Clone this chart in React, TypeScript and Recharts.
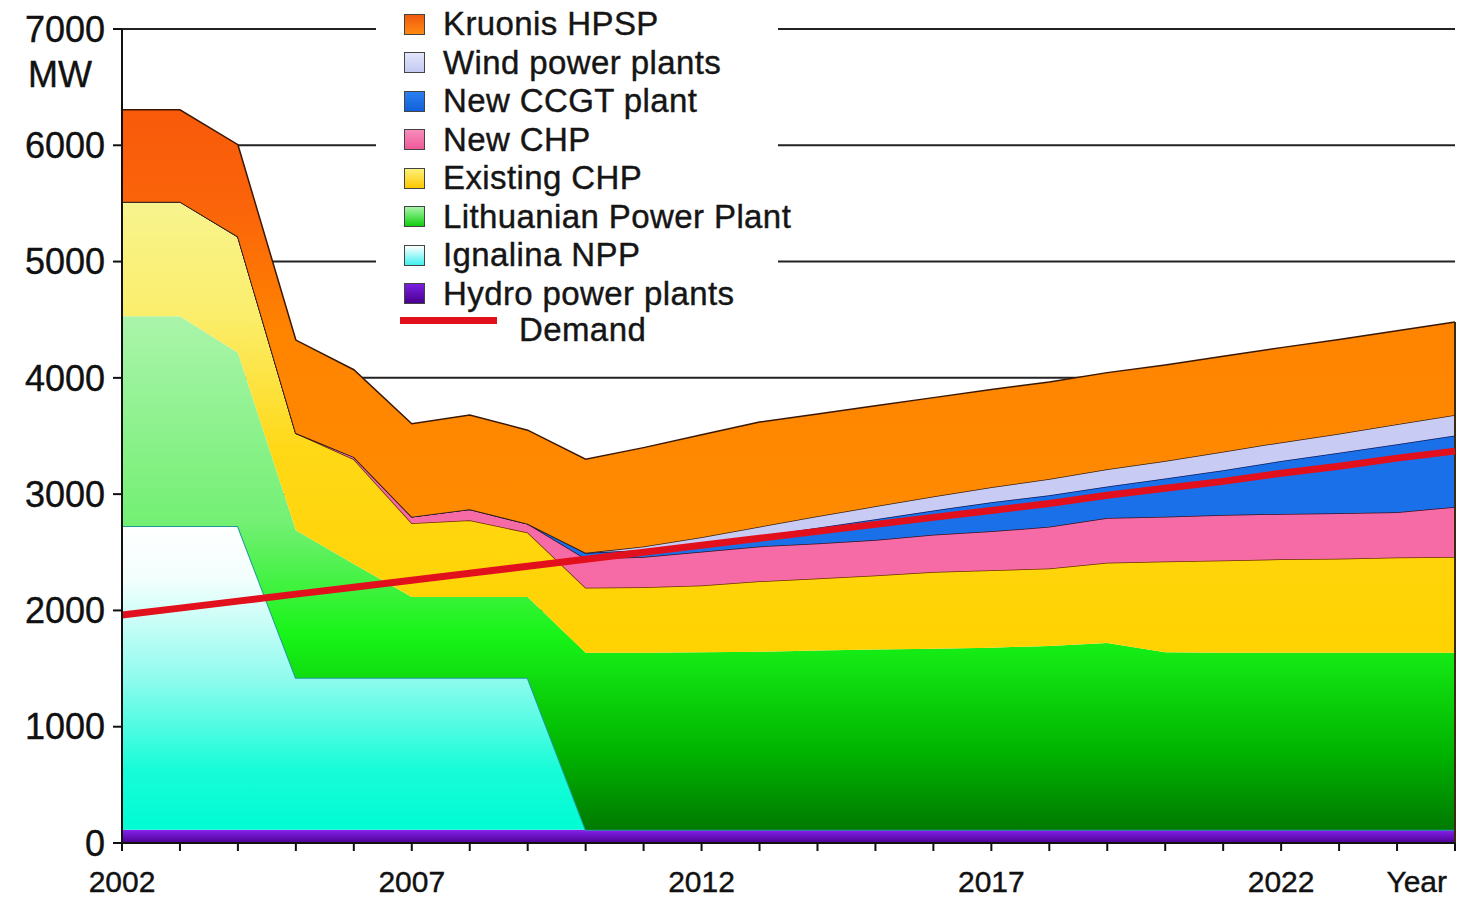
import { ComposedChart, Area, Line, XAxis, YAxis, CartesianGrid, ReferenceLine } from 'recharts';

// installed capacity by source, MW
const years = [2002, 2003, 2004, 2005, 2006, 2007, 2008, 2009, 2010, 2011, 2012, 2013, 2014, 2015, 2016, 2017, 2018, 2019, 2020, 2021, 2022, 2023, 2024, 2025];
const hydro = [115, 115, 115, 115, 115, 115, 115, 115, 115, 115, 115, 115, 115, 115, 115, 115, 115, 115, 115, 115, 115, 115, 115, 115];
const ignalina = [2610, 2610, 2610, 1305, 1305, 1305, 1305, 1305, 0, 0, 0, 0, 0, 0, 0, 0, 0, 0, 0, 0, 0, 0, 0, 0];
const lithuanianPP = [1805, 1805, 1490, 1270, 980, 695, 695, 695, 1520, 1520, 1525, 1530, 1540, 1550, 1555, 1565, 1580, 1605, 1525, 1520, 1520, 1520, 1520, 1520];
const existingChp = [985, 985, 1000, 835, 900, 635, 660, 555, 560, 565, 575, 605, 620, 635, 660, 665, 665, 690, 780, 795, 805, 810, 820, 825];
const newChp = [0, 0, 0, 0, 20, 55, 95, 75, 250, 260, 290, 300, 300, 305, 320, 335, 360, 385, 385, 390, 390, 390, 390, 430];
const newCcgt = [0, 0, 0, 0, 0, 0, 0, 0, 50, 60, 65, 90, 135, 180, 210, 250, 270, 270, 330, 385, 455, 520, 585, 615];
const wind = [0, 0, 0, 0, 0, 0, 0, 0, 0, 30, 60, 80, 100, 110, 120, 130, 140, 150, 150, 160, 160, 165, 170, 175];
const kruonis = [790, 790, 790, 800, 750, 800, 810, 805, 805, 850, 880, 900, 880, 865, 850, 840, 835, 830, 825, 820, 815, 810, 805, 800];
const demand = [1960, 2020, 2080, 2140, 2200, 2260, 2320, 2380, 2440, 2500, 2560, 2620, 2680, 2740, 2800, 2860, 2920, 2990, 3050, 3110, 3180, 3240, 3310, 3370];

const yTicks = [0, 1000, 2000, 3000, 4000, 5000, 6000, 7000];
const labelYears = [2002, 2007, 2012, 2017, 2022];

const data = years.map((year, i) => ({
  year,
  hydro: hydro[i],
  ignalina: ignalina[i],
  lpp: lithuanianPP[i],
  existingChp: existingChp[i],
  newChp: newChp[i],
  ccgt: newCcgt[i],
  wind: wind[i],
  kruonis: kruonis[i],
  demand: demand[i],
}));

const lastTotal = hydro[23] + ignalina[23] + lithuanianPP[23] + existingChp[23] + newChp[23] + newCcgt[23] + wind[23] + kruonis[23];

const FONT = "'Liberation Sans', Arial, sans-serif";

const legendItems = [
  { name: 'Kruonis HPSP', bg: 'linear-gradient(#f05a10, #ff8a10)' },
  { name: 'Wind power plants', bg: 'linear-gradient(#e4e6fb, #c4c9f2)' },
  { name: 'New CCGT plant', bg: 'linear-gradient(#2a80f0, #1260d8)' },
  { name: 'New CHP', bg: 'linear-gradient(#f88cbc, #ee5a98)' },
  { name: 'Existing CHP', bg: 'linear-gradient(#fbf07a, #ffc800)' },
  { name: 'Lithuanian Power Plant', bg: 'linear-gradient(#a8f5a8, #10d010)' },
  { name: 'Ignalina NPP', bg: 'linear-gradient(#ffffff, #40f0f0)' },
  { name: 'Hydro power plants', bg: 'linear-gradient(#7a20e0, #4a0090)' },
];

const XTick = (props: any) => {
  const { x, y, payload } = props;
  const yr = payload.value;
  if (yr === 2025) {
    return (
      <text x={x - 8} y={y} dy="0.71em" textAnchor="end" fontSize={30} fontFamily={FONT} fill="#111" stroke="#111" strokeWidth={0.4}>Year</text>
    );
  }
  if (!labelYears.includes(yr)) return <g />;
  return (
    <text x={x} y={y} dy="0.71em" textAnchor="middle" fontSize={30} fontFamily={FONT} fill="#111" stroke="#111" strokeWidth={0.4}>{yr}</text>
  );
};

const YTick = (props: any) => {
  const { x, y, payload } = props;
  return (
    <g>
      <text x={x} y={y} dy="0.355em" textAnchor="end" fontSize={36} fontFamily={FONT} fill="#111" stroke="#111" strokeWidth={0.4}>{payload.value}</text>
      {payload.value === 7000 && (
        <text x={x - 45} y={y + 45} dy="0.355em" textAnchor="middle" fontSize={36} fontFamily={FONT} fill="#111" stroke="#111" strokeWidth={0.4}>MW</text>
      )}
    </g>
  );
};

export default function App() {
  return (
    <div style={{ position: 'absolute', left: 0, top: 0, width: 1461, height: 901, background: '#fff' }}>
      <ComposedChart width={1461} height={901} data={data} margin={{ top: 29, right: 6, bottom: 0, left: 0 }}>
        <defs>
          <linearGradient id="gHydro" x1="0" y1="0" x2="0" y2="1">
            <stop offset="0" stopColor="#8a24f0" />
            <stop offset="1" stopColor="#4a0090" />
          </linearGradient>
          <linearGradient id="gIgn" x1="0" y1="0" x2="0" y2="1">
            <stop offset="0" stopColor="#ffffff" />
            <stop offset="0.18" stopColor="#f2fffd" />
            <stop offset="0.5" stopColor="#90fbee" />
            <stop offset="0.8" stopColor="#18fcd8" />
            <stop offset="1" stopColor="#00fcd4" />
          </linearGradient>
          <linearGradient id="gLpp" x1="0" y1="0" x2="0" y2="1">
            <stop offset="0" stopColor="#aaf4aa" />
            <stop offset="0.4" stopColor="#74f074" />
            <stop offset="0.62" stopColor="#18f418" />
            <stop offset="0.85" stopColor="#00b400" />
            <stop offset="1" stopColor="#007a00" />
          </linearGradient>
          <linearGradient id="gEx" x1="0" y1="0" x2="0" y2="1">
            <stop offset="0" stopColor="#f8f48e" />
            <stop offset="0.25" stopColor="#fbee6c" />
            <stop offset="0.55" stopColor="#ffd816" />
            <stop offset="1" stopColor="#ffd200" />
          </linearGradient>
          <linearGradient id="gKru" x1="0" y1="0" x2="0" y2="1">
            <stop offset="0" stopColor="#f85a0a" />
            <stop offset="0.22" stopColor="#fb640a" />
            <stop offset="0.5" stopColor="#ff8400" />
            <stop offset="1" stopColor="#ff8c00" />
          </linearGradient>
        </defs>
        <CartesianGrid vertical={false} stroke="#222" strokeWidth={2} />
        <XAxis
          dataKey="year"
          type="number"
          domain={[2002, 2025]}
          ticks={years}
          interval={0}
          height={58}
          tickSize={8}
          tickMargin={20}
          tick={<XTick />}
          axisLine={{ stroke: '#111', strokeWidth: 2 }}
          tickLine={{ stroke: '#111', strokeWidth: 2 }}
        />
        <YAxis
          type="number"
          domain={[0, 7000]}
          ticks={yTicks}
          interval={0}
          width={122}
          tickSize={9}
          tickMargin={8}
          tick={<YTick />}
          axisLine={{ stroke: '#111', strokeWidth: 2 }}
          tickLine={{ stroke: '#111', strokeWidth: 2 }}
        />
        <Area type="linear" dataKey="hydro" stackId="cap" fill="url(#gHydro)" fillOpacity={1} stroke="none" isAnimationActive={false} />
        <Area type="linear" dataKey="ignalina" stackId="cap" fill="url(#gIgn)" fillOpacity={1} stroke="#1c9c9c" strokeWidth={2} isAnimationActive={false} />
        <Area type="linear" dataKey="lpp" stackId="cap" fill="url(#gLpp)" fillOpacity={1} stroke="none" isAnimationActive={false} />
        <Area type="linear" dataKey="existingChp" stackId="cap" fill="url(#gEx)" fillOpacity={1} stroke="#6b3000" strokeWidth={1.5} isAnimationActive={false} />
        <Area type="linear" dataKey="newChp" stackId="cap" fill="#f66aa6" fillOpacity={1} stroke="#3a1020" strokeWidth={1.5} isAnimationActive={false} />
        <Area type="linear" dataKey="ccgt" stackId="cap" fill="#1a70e8" fillOpacity={1} stroke="#0a1a60" strokeWidth={1.5} isAnimationActive={false} />
        <Area type="linear" dataKey="wind" stackId="cap" fill="#c8ccf4" fillOpacity={1} stroke="#3a2010" strokeWidth={1.5} isAnimationActive={false} />
        <Area type="linear" dataKey="kruonis" stackId="cap" fill="url(#gKru)" fillOpacity={1} stroke="#3a1800" strokeWidth={1.5} isAnimationActive={false} />
        <ReferenceLine segment={[{ x: 2025, y: 0 }, { x: 2025, y: lastTotal }]} stroke="#3a2a10" strokeWidth={2} />
        <Line type="linear" dataKey="demand" stroke="#e2101c" strokeWidth={7} dot={false} activeDot={false} isAnimationActive={false} />
      </ComposedChart>

      <div style={{ position: 'absolute', left: 376, top: 0, width: 402, height: 350, background: '#fff', fontFamily: FONT, color: '#151515', WebkitTextStroke: '0.4px #151515' }}>
        {legendItems.map((item, i) => (
          <div key={item.name} style={{ position: 'absolute', left: 0, top: 5 + i * 38.5, height: 38, display: 'flex', alignItems: 'center' }}>
            <div style={{ marginLeft: 28, width: 21, height: 21, background: item.bg, border: '1px solid #444', boxSizing: 'border-box' }} />
            <span style={{ marginLeft: 18, fontSize: 33, lineHeight: '38px', whiteSpace: 'nowrap', letterSpacing: 0.4 }}>{item.name}</span>
          </div>
        ))}
        <div style={{ position: 'absolute', left: 24, top: 317, width: 97, height: 7, background: '#e2101c' }} />
        <div style={{ position: 'absolute', left: 143, top: 311, fontSize: 33, lineHeight: '38px', letterSpacing: 0.4 }}>Demand</div>
      </div>
    </div>
  );
}
